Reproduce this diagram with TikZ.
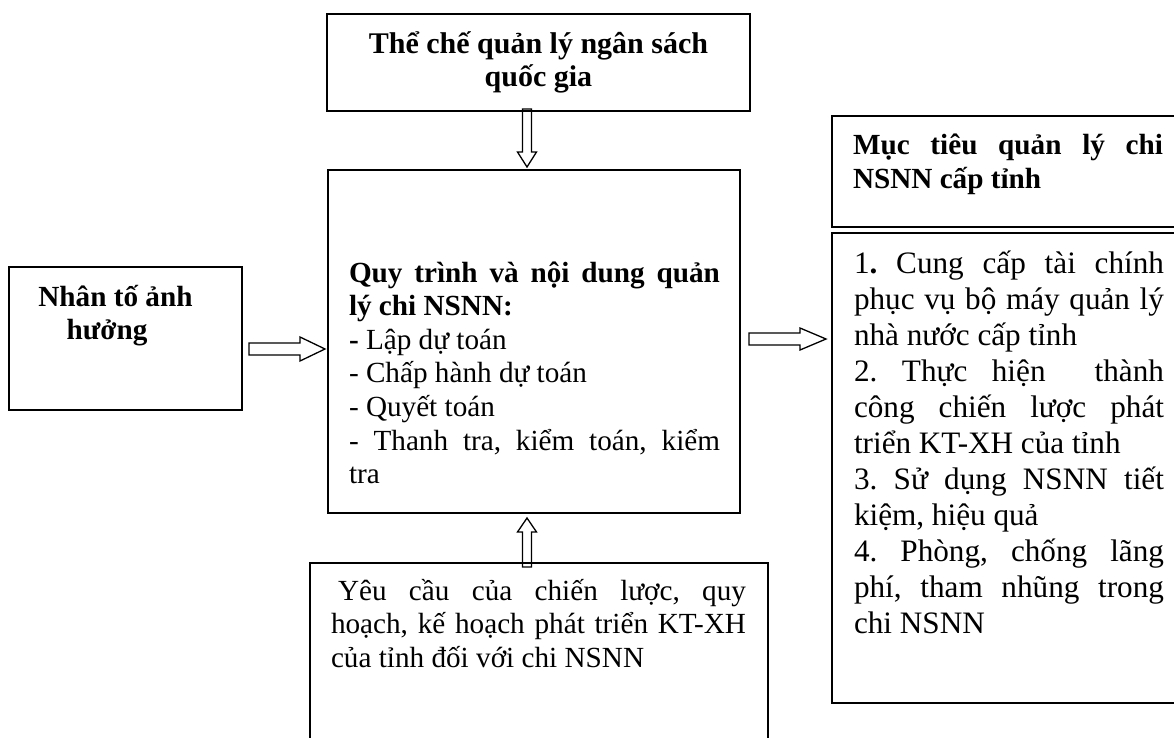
\documentclass[tikz,border=0pt]{standalone}
\usepackage{fontspec}
\setmainfont{Liberation Serif}
\usepackage{tikz}
\usetikzlibrary{calc}
\hyphenpenalty=10000
\exhyphenpenalty=10000
\hbadness=10000
\frenchspacing
\newcommand{\boxfont}{\fontsize{29.2}{33.6}\selectfont}
\newcommand{\listfont}{\fontsize{31.2}{36}\selectfont}

\begin{document}
\begin{tikzpicture}[x=1pt, y=-1pt,
  frame/.style={draw, line width=1.8pt, inner sep=0pt, outer sep=0pt, anchor=north west},
  blk/.style={draw, line width=1.3pt, line join=miter}]
  \useasboundingbox (0,0) rectangle (1174,738);
  \clip (0,0) rectangle (1174,738);
  \fill[white] (0,0) rectangle (1174,738);

  % boxes
  \node[frame] (thche) at (327,14) {\parbox[c][97pt][c]{423pt}{\fontsize{30}{33.6}\selectfont
    \centering\textbf{Thể chế quản lý ngân sách\\quốc gia}}};
  \node[frame] (nhanto) at (9,267) {\parbox[c][143pt][t]{233pt}{\boxfont\centering
    \rightskip=20pt plus 1fil\relax\rule{0pt}{39pt}\textbf{Nhân tố ảnh\\hưởng\hspace*{17pt}}}};
  \node[frame] (quytrinh) at (328,170) {\parbox[c][343pt][t]{412pt}{\boxfont
    \leftskip=21pt\rightskip=20pt\relax\rule{0pt}{112pt}%
    \textbf{Quy trình và nội dung quản\linebreak lý chi NSNN:}\\
    \textbf{-} Lập dự toán\\
    - Chấp hành dự toán\\
    - Quyết toán\\
    - Thanh tra, kiểm toán, kiểm\linebreak tra}};
  \node[frame] (yeucau) at (310,563) {\parbox[c][200pt][t]{458pt}{\boxfont
    \leftskip=21pt\rightskip=22pt\relax\rule{0pt}{37pt}\hspace*{7pt}%
    Yêu cầu của chiến lược, quy\linebreak
    hoạch, kế hoạch phát triển KT-XH\linebreak
    của tỉnh đối với chi NSNN}};
  \node[frame] (muctieu) at (832,116) {\parbox[c][111pt][t]{354pt}{\boxfont
    \leftskip=21pt\rightskip=23pt\relax\rule{0pt}{39pt}%
    \textbf{Mục tiêu quản lý chi\linebreak NSNN cấp tỉnh}}};
  \node[frame] (noidung) at (832,233) {\parbox[c][470pt][t]{354pt}{\listfont
    \leftskip=22pt\rightskip=22pt\relax\rule{0pt}{40pt}%
    1\textbf{.} Cung cấp tài chính\linebreak
    phục vụ bộ máy quản lý\linebreak
    nhà nước cấp tỉnh\\
    2. Thực hiện\ \ thành\linebreak
    công chiến lược phát\linebreak
    triển KT-XH của tỉnh\\
    3. Sử dụng NSNN tiết\linebreak
    kiệm, hiệu quả\\
    4. Phòng, chống lãng\linebreak
    phí, tham nhũng trong\linebreak
    chi NSNN}};

  % block arrows
  \coordinate (ax) at (527,0);
  \coordinate (ay) at (0,349);
  \coordinate (az) at (0,339);
  \draw[blk] ($(thche.south -| ax)+(-4.5,-2)$) |- ($(quytrinh.north -| ax)+(-9.5,-18)$)
    -- ($(quytrinh.north -| ax)+(0,-3)$) -- ($(quytrinh.north -| ax)+(9.5,-18)$)
    -| ($(thche.south -| ax)+(4.5,-2)$) -- cycle;
  \draw[blk] ($(yeucau.north -| ax)+(-4.5,4)$) |- ($(quytrinh.south -| ax)+(-9.5,19)$)
    -- ($(quytrinh.south -| ax)+(0,5)$) -- ($(quytrinh.south -| ax)+(9.5,19)$)
    -| ($(yeucau.north -| ax)+(4.5,4)$) -- cycle;
  \draw[blk] ($(nhanto.east |- ay)+(7,-6)$) -| ($(quytrinh.west |- ay)+(-28,-12)$)
    -- ($(quytrinh.west |- ay)+(-3,0)$) -- ($(quytrinh.west |- ay)+(-28,12)$)
    |- ($(nhanto.east |- ay)+(7,6)$) -- cycle;
  \draw[blk] ($(quytrinh.east |- az)+(9,-6)$) -| ($(noidung.west |- az)+(-32,-11)$)
    -- ($(noidung.west |- az)+(-6,0)$) -- ($(noidung.west |- az)+(-32,11)$)
    |- ($(quytrinh.east |- az)+(9,6)$) -- cycle;
\end{tikzpicture}
\end{document}
